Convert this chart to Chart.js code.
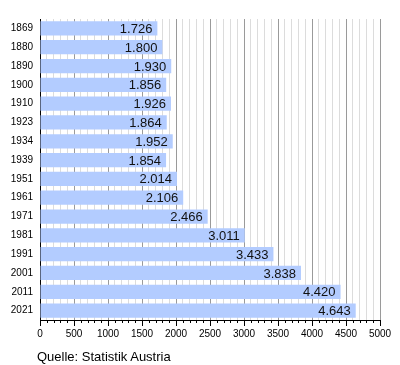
<!DOCTYPE html>
<html>
<head>
<meta charset="utf-8">
<script src="https://cdn.jsdelivr.net/npm/chart.js@4"></script>
<style>
  body { margin: 0; background: #fff; }
  #wrap { position: relative; width: 400px; height: 365px; }
  #source { position: absolute; left: 37px; top: 349px; font: 13px "Liberation Sans", Arial, sans-serif; color: #000; }
</style>
</head>
<body>
<div id="wrap">
  <canvas id="myChart" width="400" height="365"></canvas>
  <div id="source">Quelle: Statistik Austria</div>
</div>
<script>
const years = ["1869", "1880", "1890", "1900", "1910", "1923", "1934", "1939", "1951", "1961", "1971", "1981", "1991", "2001", "2011", "2021"];
const population = [1726, 1800, 1930, 1856, 1926, 1864, 1952, 1854, 2014, 2106, 2466, 3011, 3433, 3838, 4420, 4643];

// thousands separator like "1.726"
function fmt(v) {
  return String(v).replace(/\B(?=(\d{3})+$)/g, ".");
}

// value text at the end of each bar
const barLabels = {
  id: "barLabels",
  afterDatasetsDraw(chart) {
    const ctx = chart.ctx;
    const meta = chart.getDatasetMeta(0);
    ctx.save();
    ctx.font = '13px "Liberation Sans", Arial, sans-serif';
    ctx.fillStyle = "#111";
    ctx.textAlign = "right";
    ctx.textBaseline = "middle";
    meta.data.forEach((bar, i) => {
      ctx.fillText(fmt(population[i]), bar.x - 5, bar.y + 1);
    });
    ctx.restore();
  },
};

// minor / major tick marks below the x axis
const xTicks = {
  id: "xTicks",
  afterDraw(chart) {
    const ctx = chart.ctx;
    const x = chart.scales.x;
    const bottom = chart.chartArea.bottom;
    ctx.save();
    ctx.strokeStyle = "#000";
    ctx.lineWidth = 1;
    for (let v = 0; v <= 5000; v += 100) {
      const px = Math.round(x.getPixelForValue(v)) + 0.5;
      ctx.beginPath();
      ctx.moveTo(px, bottom);
      ctx.lineTo(px, bottom + (v % 500 === 0 ? 6 : 3));
      ctx.stroke();
    }
    ctx.restore();
  },
};

const ctx = document.getElementById("myChart");
const data = {
  labels: years,
  datasets: [
    {
      data: population,
      backgroundColor: "rgb(179, 204, 255)",
      borderWidth: 0,
      categoryPercentage: 0.76,
      barPercentage: 1,
    },
  ],
};

const config = {
  type: "bar",
  data: data,
  options: {
    indexAxis: "y",
    responsive: false,
    animation: false,
    layout: { padding: { top: 19, right: 20, bottom: 20, left: 0 } },
    plugins: {
      legend: { display: false },
      tooltip: { enabled: false },
    },
    scales: {
      x: {
        min: 0,
        max: 5000,
        afterFit: (s) => { s.height = 25; },
        ticks: {
          stepSize: 100,
          autoSkip: false,
          maxRotation: 0,
          padding: 2,
          color: "#000",
          font: { family: '"Liberation Sans", Arial, sans-serif', size: 10 },
          callback: (v) => (v % 500 === 0 ? v : ""),
        },
        grid: {
          color: (c) => (c.tick && c.tick.value % 500 === 0 ? "#9a9a9a" : "#dcdcdc"),
          tickColor: "rgba(0,0,0,0)",
          tickLength: 6,
        },
        border: { display: true, color: "#000" },
      },
      y: {
        afterFit: (s) => { s.width = 40; },
        ticks: {
          padding: 7,
          color: "#000",
          font: { family: '"Liberation Sans", Arial, sans-serif', size: 10 },
        },
        grid: { display: false, drawTicks: false },
        border: { display: true, color: "#000" },
      },
    },
  },
  plugins: [barLabels, xTicks],
};

const myChart = new Chart(ctx, config);
</script>
</body>
</html>
